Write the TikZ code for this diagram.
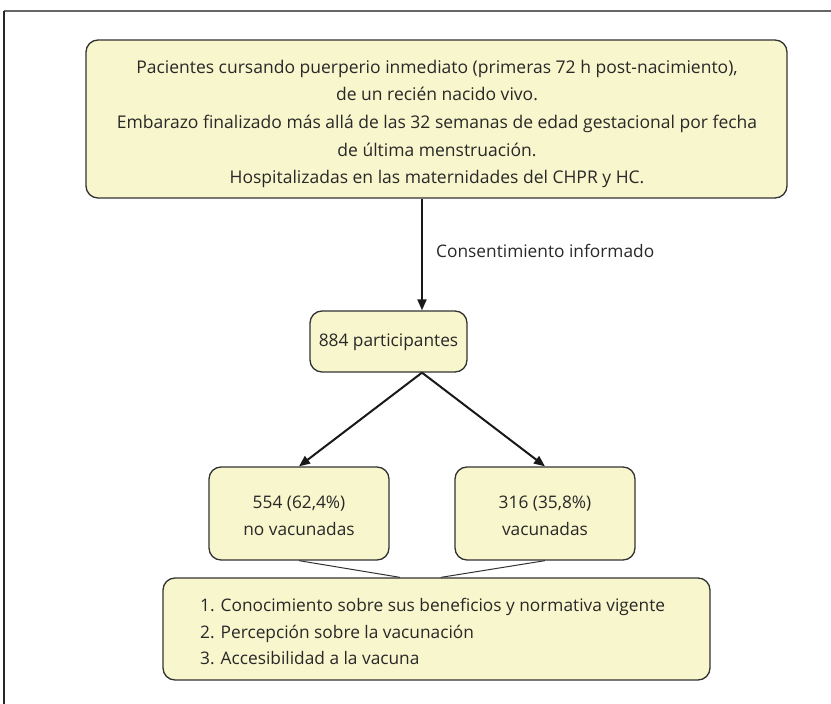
\documentclass[tikz,border=0pt]{standalone}
\usepackage{fontspec}
\setmainfont{Open Sans}
\usetikzlibrary{arrows.meta}
\definecolor{boxfill}{RGB}{248,246,204}
\definecolor{boxdraw}{RGB}{50,50,50}
\definecolor{txt}{RGB}{40,40,40}
\begin{document}
\begin{tikzpicture}[x=1pt,y=-1pt,
  fbox/.style={draw=boxdraw,fill=boxfill,line width=1.3pt,rounded corners=12pt,inner sep=0pt},
  lbl/.style={text=txt,font=\fontsize{17.3}{26.8}\selectfont,align=center,inner sep=0pt},
  arr/.style={line width=2pt,draw=black!90,-{Triangle[length=11pt,width=9pt]}},
  conn/.style={line width=1pt,draw=boxdraw}]
\useasboundingbox (0,0) rectangle (831,704);
\draw[line width=1.6pt,draw=black!60] (831,11) -- (4,11);
\draw[line width=1.6pt,draw=black!85] (4,11) -- (4,704);

\node[fbox,minimum width=701pt,minimum height=158pt] (top) at (436.5,119) {};
\node[lbl,font=\fontsize{17.5}{27.6}\selectfont] (toptxt) at (437,124) {Pacientes cursando puerperio inmediato (primeras 72 h post-nacimiento),\\
de un recién nacido vivo.\\
Embarazo finalizado más allá de las 32 semanas de edad gestacional por fecha\\
de última menstruación.\\
Hospitalizadas en las maternidades del CHPR y HC.};

\node[fbox,minimum width=157pt,minimum height=61pt] (p) at (388.5,341.5) {};
\node[lbl] (ptxt) at (388.5,342) {884 participantes};

\node[fbox,minimum width=180pt,minimum height=93pt] (l) at (299,513.5) {};
\node[lbl] (ltxt) at (299,516) {554 (62,4\%)\\no vacunadas};

\node[fbox,minimum width=180pt,minimum height=93pt] (r) at (545,513.5) {};
\node[lbl] (rtxt) at (545,516) {316 (35,8\%)\\vacunadas};

\node[fbox,minimum width=547pt,minimum height=102pt] (b) at (436.5,629) {};
\node[lbl,align=left,anchor=west] (btxt) at (200,631.5) {1. Conocimiento sobre sus beneficios y normativa vigente\\
2. Percepción sobre la vacunación\\
3. Accesibilidad a la vacuna};

\coordinate (ax) at (422,0);
\coordinate (bl) at (400,0);
\coordinate (br) at (441,0);

\draw[arr] (ax |- top.south) -- (ax |- p.north);
\node[lbl,anchor=west] (cons) at (436,251) {Consentimiento informado};

\draw[arr] (ax |- p.south) -- (l.north);
\draw[arr] (ax |- p.south) -- (r.north);

\draw[conn] (l.south) -- (bl |- b.north);
\draw[conn] (r.south) -- (br |- b.north);
\end{tikzpicture}
\end{document}
